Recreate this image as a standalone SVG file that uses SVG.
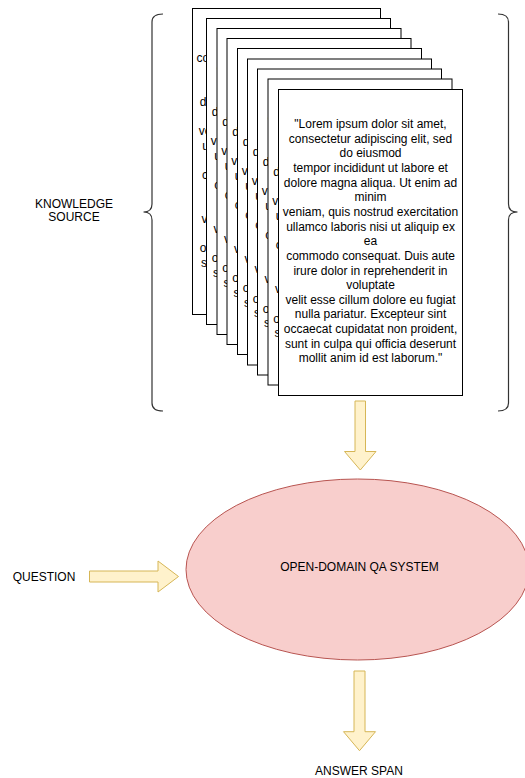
<svg xmlns="http://www.w3.org/2000/svg" xmlns:xlink="http://www.w3.org/1999/xlink" width="525" height="778" viewBox="0 0 525 778">
<style>
.t{font-family:"Liberation Sans",Arial,Helvetica,sans-serif;font-size:12px;fill:#000;text-anchor:middle}
.page{fill:#fff;stroke:#000;stroke-width:1}
.brace{fill:none;stroke:#333;stroke-width:1.2}
.blk{fill:#fff2cc;stroke:#d6b656;stroke-width:1;stroke-linejoin:round}
.ell{fill:#f8cecc;stroke:#b85450;stroke-width:1}
</style>
<defs>
<text id="lorem184" class="t" x="0" y="38.5"><tspan x="0">"Lorem ipsum dolor sit amet,</tspan><tspan x="0" dy="14.65">consectetur adipiscing elit, sed</tspan><tspan x="0" dy="14.65">do eiusmod</tspan><tspan x="0" dy="14.65">tempor incididunt ut labore et</tspan><tspan x="0" dy="14.65">dolore magna aliqua. Ut enim ad</tspan><tspan x="0" dy="14.65">minim</tspan><tspan x="0" dy="14.65">veniam, quis nostrud exercitation</tspan><tspan x="0" dy="14.65">ullamco laboris nisi ut aliquip ex</tspan><tspan x="0" dy="14.65">ea</tspan><tspan x="0" dy="14.65">commodo consequat. Duis aute</tspan><tspan x="0" dy="14.65">irure dolor in reprehenderit in</tspan><tspan x="0" dy="14.65">voluptate</tspan><tspan x="0" dy="14.65">velit esse cillum dolore eu fugiat</tspan><tspan x="0" dy="14.65">nulla pariatur. Excepteur sint</tspan><tspan x="0" dy="14.65">occaecat cupidatat non proident,</tspan><tspan x="0" dy="14.65">sunt in culpa qui officia deserunt</tspan><tspan x="0" dy="14.65">mollit anim id est laborum."</tspan></text>
</defs>

<g id="knowledge-source-label">
<text class="t" x="74" y="207.5">KNOWLEDGE</text>
<text class="t" x="74" y="221">SOURCE</text>
</g>

<g id="brace-left">
<path class="brace" d="M163,14 Q152,14 152,22 L152,204 Q152,212 143.5,212 Q152,212 152,220 L152,403 Q152,411 163,411"/>
</g>
<g id="brace-right">
<path class="brace" d="M498,14 Q508.5,14 508.5,22 L508.5,204 Q508.5,212 517.5,212 Q508.5,212 508.5,220 L508.5,403 Q508.5,411 498,411"/>
</g>

<g id="doc-1">
<rect class="page" x="192.5" y="8.5" width="188" height="306"/>
<text class="t" x="286.5" y="47"><tspan x="286.5">"Lorem ipsum dolor sit amet,</tspan><tspan x="286.5" dy="14.65">consectetur adipiscing elit, sed do</tspan><tspan x="286.5" dy="14.65">eiusmod</tspan><tspan x="286.5" dy="14.65">tempor incididunt ut labore et</tspan><tspan x="286.5" dy="14.65">dolore magna aliqua. Ut enim ad</tspan><tspan x="286.5" dy="14.65">minim</tspan><tspan x="286.5" dy="14.65">veniam, quis nostrud exercitation</tspan><tspan x="286.5" dy="14.65">ullamco laboris nisi ut aliquip ex</tspan><tspan x="286.5" dy="14.65">ea</tspan><tspan x="286.5" dy="14.65">commodo consequat. Duis aute</tspan><tspan x="286.5" dy="14.65">irure dolor in reprehenderit in</tspan><tspan x="286.5" dy="14.65">voluptate</tspan><tspan x="286.5" dy="14.65">velit esse cillum dolore eu fugiat</tspan><tspan x="286.5" dy="14.65">nulla pariatur. Excepteur sint</tspan><tspan x="286.5" dy="14.65">occaecat cupidatat non proident,</tspan><tspan x="286.5" dy="14.65">sunt in culpa qui officia deserunt</tspan><tspan x="286.5" dy="14.65">mollit anim id est laborum."</tspan></text>
</g>
<g id="doc-2">
<rect class="page" x="206.5" y="18.5" width="184" height="306"/>
<use xlink:href="#lorem184" href="#lorem184" x="298.5" y="18.5"/>
</g>
<g id="doc-3">
<rect class="page" x="217" y="28.5" width="184" height="306"/>
<use xlink:href="#lorem184" href="#lorem184" x="309" y="28.5"/>
</g>
<g id="doc-4">
<rect class="page" x="227" y="38.5" width="184" height="306"/>
<use xlink:href="#lorem184" href="#lorem184" x="319" y="38.5"/>
</g>
<g id="doc-5">
<rect class="page" x="237.5" y="48.5" width="184" height="306"/>
<use xlink:href="#lorem184" href="#lorem184" x="329.5" y="48.5"/>
</g>
<g id="doc-6">
<rect class="page" x="247.5" y="59" width="184" height="306"/>
<use xlink:href="#lorem184" href="#lorem184" x="339.5" y="59"/>
</g>
<g id="doc-7">
<rect class="page" x="257.5" y="69" width="184" height="306"/>
<use xlink:href="#lorem184" href="#lorem184" x="349.5" y="69"/>
</g>
<g id="doc-8">
<rect class="page" x="268" y="79" width="184" height="306"/>
<use xlink:href="#lorem184" href="#lorem184" x="360" y="79"/>
</g>
<g id="doc-9">
<rect class="page" x="278.5" y="89.5" width="184" height="306"/>
<use xlink:href="#lorem184" href="#lorem184" x="370.5" y="89.5"/>
</g>

<g id="qa-system">
<ellipse class="ell" cx="357.5" cy="569.5" rx="171.5" ry="90.5"/>
<text class="t" x="359.5" y="571">OPEN-DOMAIN QA SYSTEM</text>
</g>

<g id="question">
<text class="t" x="44" y="581">QUESTION</text>
</g>

<g id="answer-span">
<text class="t" x="359" y="774.5">ANSWER SPAN</text>
</g>

<g id="connectors">
<path class="blk" d="M355,401 L365.5,401 L365.5,451.5 L376,451.5 L360.3,470 L344.5,451.5 L355,451.5 Z"/>
<path class="blk" d="M89.5,571 L158,571 L158,561 L178.5,576.5 L158,592 L158,582 L89.5,582 Z"/>
<path class="blk" d="M354,671 L365,671 L365,731.7 L375.5,731.7 L359.5,750.7 L343.5,731.7 L354,731.7 Z"/>
</g>
</svg>
